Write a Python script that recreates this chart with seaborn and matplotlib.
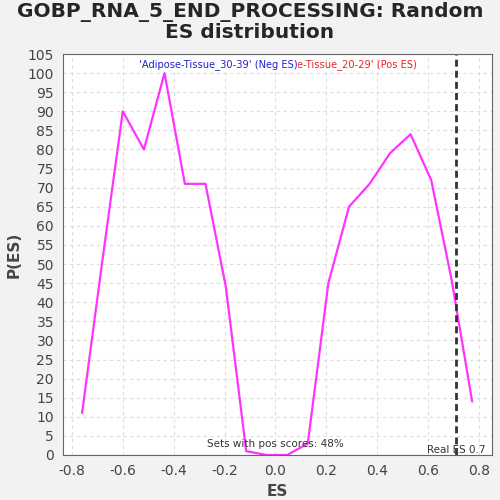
import numpy as np
import pandas as pd
import matplotlib
matplotlib.use('Agg')
import matplotlib.pyplot as plt
import seaborn as sns

# random ES distribution
es = [-0.76, -0.68, -0.60, -0.517, -0.436, -0.356, -0.275, -0.195, -0.115, -0.035,
      0.046, 0.127, 0.208, 0.289, 0.37, 0.45, 0.531, 0.612, 0.692, 0.773]
pes = [11, 51, 90, 80, 100, 71, 71, 44, 1, 0,
       0, 3, 45, 65, 71, 79, 84, 72, 46, 14]
real_es = 0.71
neg_label = "'Adipose-Tissue_30-39' (Neg ES)"
pos_label = "'Adipose-Tissue_20-29' (Pos ES)"
pos_pct = "Sets with pos scores: 48%"

df = pd.DataFrame({'ES': es, 'P': pes})

sns.set_style('white')
fig = plt.figure(figsize=(5, 5), dpi=100, facecolor='#f2f2f2')
ax = fig.add_axes([0.126, 0.09, 0.858, 0.802])
ax.set_facecolor('white')

sns.lineplot(data=df, x='ES', y='P', color='#ff33ff', linewidth=1.6, ax=ax)
ax.axvline(real_es, color='#333333', linestyle=(0, (2.5, 1.5)), linewidth=2)

ax.set_xlim(-0.835, 0.851)
ax.set_ylim(0, 105)
ax.set_xticks(np.arange(-0.8, 0.81, 0.2))
ax.set_xticklabels(['-0.8', '-0.6', '-0.4', '-0.2', '0.0', '0.2', '0.4', '0.6', '0.8'])
ax.set_yticks(np.arange(0, 106, 5))
ax.grid(True, color='#dddddd', linestyle=(0, (3, 3)), linewidth=0.8)
ax.tick_params(axis='both', labelsize=10, colors='#444444', length=3)
for s in ax.spines.values():
    s.set_color('#666666')

ax.set_xlabel('ES', fontsize=11, color='#444444', fontweight='bold')
ax.set_ylabel('P(ES)', fontsize=11, color='#444444', fontweight='bold')
fig.suptitle('GOBP_RNA_5_END_PROCESSING: Random\nES distribution', fontsize=14.5,
             fontweight='bold', y=0.995, linespacing=1.05)

# red label sits partly under the blue one, as in the reference
ax.text(0.825, 0.974, pos_label, transform=ax.transAxes, color='#ee2222',
        fontsize=7.1, ha='right', va='center', zorder=5)
ax.text(0.177, 0.974, neg_label, transform=ax.transAxes, color='#2222cc',
        fontsize=7.1, ha='left', va='center', zorder=6,
        bbox=dict(facecolor='white', edgecolor='none', pad=0.3))
ax.text(0.0, 1.5, pos_pct, fontsize=7.5, color='#333333', ha='center', va='bottom')
ax.text(real_es - 0.115, 0.0, 'Real ES 0.7', fontsize=7.5, color='#333333',
        ha='left', va='bottom')

fig.savefig('out.png', dpi=100, facecolor=fig.get_facecolor())
